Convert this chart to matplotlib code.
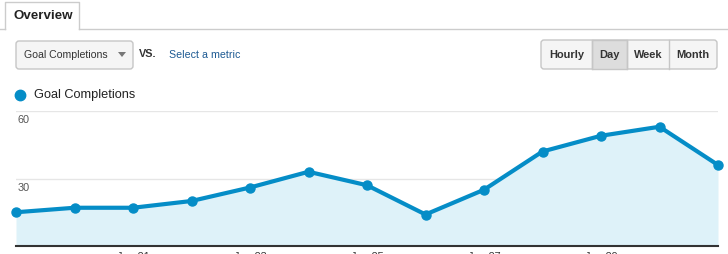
import matplotlib
matplotlib.use("Agg")
import numpy as np
from matplotlib import pyplot as plt
from matplotlib.patches import FancyBboxPatch, Rectangle, Polygon

plt.rcParams['font.family'] = ['Liberation Sans', 'DejaVu Sans']

# data
days = ['Jun 19', 'Jun 20', 'Jun 21', 'Jun 22', 'Jun 23', 'Jun 24', 'Jun 25',
        'Jun 26', 'Jun 27', 'Jun 28', 'Jun 29', 'Jun 30', 'Jul 1']
goals = [15, 17, 17, 20, 26, 33, 27, 14, 25, 42, 49, 53, 36]
tick_idx = [2, 4, 6, 8, 10]
yticks = [30, 60]
buttons = ['Hourly', 'Day', 'Week', 'Month']

W, H = 728, 254
blue = '#058dc7'
fill = '#def2f9'

fig = plt.figure(figsize=(W / 100, H / 100), dpi=100)
fig.patch.set_facecolor('white')

# chart area
ax = fig.add_axes([16 / W, 1 - 246 / H, (718 - 16) / W, (246 - 111) / H])
x = np.arange(len(goals))
ax.fill_between(x, goals, 0, color=fill, lw=0, zorder=1)
ax.plot(x, goals, color=blue, lw=3, marker='o', ms=6.5, zorder=3, clip_on=False)
ax.set_xlim(0, len(goals) - 1)
ax.set_ylim(0, 60)
ax.set_yticks(yticks)
ax.yaxis.grid(True, color='#e6e6e6', lw=1)
ax.set_axisbelow(True)
ax.tick_params(axis='y', length=0, labelleft=False)
for v in yticks:
    ax.annotate(str(v), (0, v), xytext=(1, -3), textcoords='offset points',
                ha='left', va='top', fontsize=7.8, color='#555555', zorder=5)
ax.set_xticks(tick_idx)
ax.set_xticklabels([days[i] for i in tick_idx], fontsize=7.8, color='#333333')
ax.tick_params(axis='x', length=0, pad=4.6)
for s in ['top', 'left', 'right']:
    ax.spines[s].set_visible(False)
ax.spines['bottom'].set_color('#333333')
ax.spines['bottom'].set_linewidth(1.5)
ax.patch.set_alpha(0)

# overlay in pixel coordinates for the controls
ui = fig.add_axes([0, 0, 1, 1], zorder=-1)
ui.set_xlim(0, W)
ui.set_ylim(H, 0)
ui.axis('off')

# tab
ui.plot([0, 5], [29, 29], color='#cccccc', lw=1)
ui.plot([79, W], [29, 29], color='#cccccc', lw=1)
ui.plot([5, 5, 79, 79], [29, 2, 2, 29], color='#cccccc', lw=1)
ui.text(13, 16, 'Overview', fontsize=9.6, fontweight='bold', color='#222222',
        ha='left', va='center')

# metric dropdown
ui.add_patch(FancyBboxPatch((16, 41), 117, 28, boxstyle='round,pad=0,rounding_size=3',
                            fc='#f5f5f5', ec='#c6c6c6', lw=1))
ui.text(24, 55, 'Goal Completions', fontsize=7.6, color='#333333', ha='left', va='center')
ui.add_patch(Polygon([[118, 52], [126, 52], [122, 57]], closed=True, fc='#777777', ec='none'))
ui.text(139, 54, 'VS.', fontsize=7.8, fontweight='bold', color='#333333', ha='left', va='center')
ui.text(169, 55, 'Select a metric', fontsize=7.7, color='#1d5a93', ha='left', va='center')

# period buttons
edges = [541, 592, 627, 669, 717]
ui.add_patch(FancyBboxPatch((541, 40), 176, 29, boxstyle='round,pad=0,rounding_size=3',
                            fc='#f5f5f5', ec='#c6c6c6', lw=1))
ui.add_patch(Rectangle((592, 40), 35, 29, fc='#dddddd', ec='#c6c6c6', lw=1))
for e in edges[1:-1]:
    ui.plot([e, e], [40, 69], color='#c6c6c6', lw=1)
for i, b in enumerate(buttons):
    ui.text((edges[i] + edges[i + 1]) / 2, 55, b, fontsize=7.9, fontweight='bold',
            color='#333333', ha='center', va='center')

# legend
ui.plot([20], [95], 'o', color=blue, ms=7.5)
ui.text(34, 95, 'Goal Completions', fontsize=9.2, color='#222222', ha='left', va='center')

fig.savefig('out.png', dpi=100)
